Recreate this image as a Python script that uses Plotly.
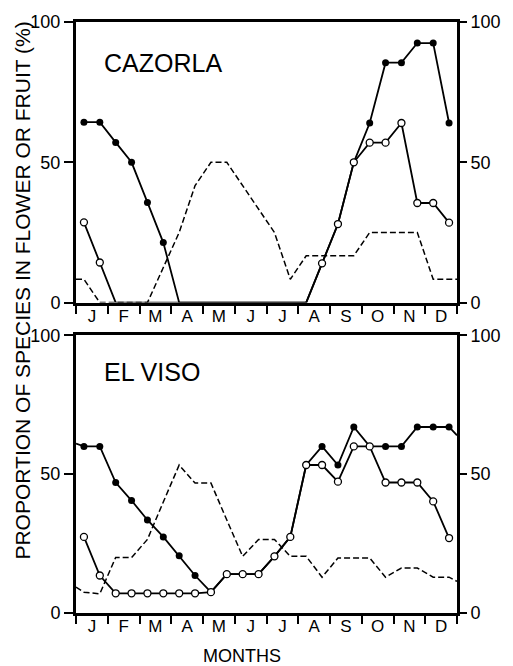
import plotly.graph_objects as go

# ---- data (x = half-month sample points, in months from 1 Jan) ----
sample_months = [0.25, 0.75, 1.25, 1.75, 2.25, 2.75, 3.25, 3.75, 4.25, 4.75, 5.25, 5.75,
                 6.25, 6.75, 7.25, 7.75, 8.25, 8.75, 9.25, 9.75, 10.25, 10.75, 11.25, 11.75]
month_labels = ["J", "F", "M", "A", "M", "J", "J", "A", "S", "O", "N", "D"]
month_centres = [0.5, 1.5, 2.5, 3.5, 4.5, 5.5, 6.5, 7.5, 8.5, 9.5, 10.5, 11.5]
year_ends = [0, 12]

cazorla_filled = [64.3, 64.3, 57.1, 50.0, 35.7, 21.4, 0, 0, 0, 0, 0, 0,
                  0, 0, 0, 14.0, 28.0, 50.0, 64.0, 85.5, 85.5, 92.5, 92.5, 64.0]
cazorla_open = [28.6, 14.3, 0, 0, 0, 0, 0, 0, 0, 0, 0, 0,
                0, 0, 0, 14.0, 28.0, 50.0, 57.0, 57.0, 64.0, 35.5, 35.5, 28.5]
cazorla_dashed = [8.3, 0, 0, 0, 0, 12.5, 25.0, 41.7, 50.0, 50.0, 41.7, 33.3,
                  25.0, 8.3, 16.7, 16.7, 16.7, 16.7, 25.0, 25.0, 25.0, 25.0, 8.3, 8.3]
cazorla_dashed_ends = [8.3, 8.3]

elviso_filled = [60.0, 60.0, 47.0, 40.5, 33.5, 27.4, 20.6, 13.5, 7.5, 14.0, 14.0, 14.0,
                 20.4, 27.4, 53.3, 60.0, 53.3, 67.0, 60.0, 60.0, 60.0, 67.0, 67.0, 67.0]
elviso_filled_ends = [61.0, 64.0]
elviso_open = [27.4, 13.5, 7.1, 7.1, 7.1, 7.1, 7.1, 7.1, 7.5, 14.0, 14.0, 14.0,
               20.4, 27.4, 53.3, 53.3, 47.3, 60.0, 60.0, 47.0, 47.0, 47.0, 40.2, 27.0]
elviso_dashed = [7.5, 6.9, 20.0, 20.0, 26.5, 40.0, 53.3, 46.8, 46.8, 33.5, 20.4, 26.5,
                 26.5, 20.4, 20.4, 12.9, 19.8, 19.8, 19.8, 12.9, 16.2, 16.2, 12.9, 12.9]
elviso_dashed_ends = [9.3, 11.4]

FONT = "Liberation Sans, Arial, Helvetica, sans-serif"


def with_ends(vals, ends):
    xs = [year_ends[0]] + sample_months + [year_ends[1]]
    ys = [ends[0]] + vals + [ends[1]]
    return xs, ys


def msizes(vals):
    return [7 if v > 0 else 0 for v in vals]


fig = go.Figure()

panels = [
    ("x", "y", "y3", cazorla_filled, None, cazorla_open, cazorla_dashed, cazorla_dashed_ends),
    ("x2", "y2", "y4", elviso_filled, elviso_filled_ends, elviso_open, elviso_dashed, elviso_dashed_ends),
]

for xa, ya, yr, filled, filled_ends, opened, dashed, dashed_ends in panels:
    dx, dy = with_ends(dashed, dashed_ends)
    fig.add_trace(go.Scatter(x=dx, y=dy, mode="lines", xaxis=xa, yaxis=yr,
                             line=dict(color="black", width=1.5, dash="6px,3px"),
                             showlegend=False, hoverinfo="skip"))
    if filled_ends is not None:
        fx, fy = with_ends(filled, filled_ends)
        fsz = [0] + msizes(filled) + [0]
    else:
        fx, fy = sample_months, filled
        fsz = msizes(filled)
    fig.add_trace(go.Scatter(x=fx, y=fy, mode="lines+markers", xaxis=xa, yaxis=ya,
                             line=dict(color="black", width=1.8),
                             marker=dict(color="black", size=fsz, symbol="circle", opacity=1,
                                         line=dict(width=0)),
                             showlegend=False, cliponaxis=False))
    fig.add_trace(go.Scatter(x=sample_months, y=opened, mode="lines+markers", xaxis=xa, yaxis=ya,
                             line=dict(color="black", width=1.8),
                             marker=dict(color="white", size=msizes(opened), symbol="circle",
                                         opacity=1, line=dict(color="black", width=1.3)),
                             showlegend=False, cliponaxis=False))

xcommon = dict(range=[0, 12], showline=True, linewidth=3, linecolor="black", mirror=True,
               showgrid=False, zeroline=False, tickmode="array", tickvals=month_centres,
               ticktext=month_labels, ticks="", ticklabelstandoff=-4,
               tickfont=dict(family=FONT, size=17, color="black"),
               minor=dict(ticks="outside", tick0=0, dtick=1, ticklen=8, tickwidth=1.5,
                          tickcolor="black", showgrid=False))
ycommon = dict(range=[0, 100], showgrid=False, zeroline=False, tickmode="array",
               tickvals=[0, 50, 100], ticks="outside", ticklen=9, tickwidth=1.5,
               tickcolor="black", tickfont=dict(family=FONT, size=18, color="black"))

top_dom = [0.5252, 1.0]
bot_dom = [0.0, 0.4698]

fig.update_layout(
    width=513, height=666,
    margin=dict(l=76, r=39, t=17, b=53),
    paper_bgcolor="white", plot_bgcolor="white",
    xaxis=dict(domain=[0, 1], anchor="y", **xcommon),
    xaxis2=dict(domain=[0, 1], anchor="y2", **xcommon),
    yaxis=dict(domain=top_dom, anchor="x", showline=True, linewidth=3, linecolor="black",
               mirror=True, **ycommon),
    yaxis2=dict(domain=bot_dom, anchor="x2", showline=True, linewidth=3, linecolor="black",
                mirror=True, **ycommon),
    yaxis3=dict(overlaying="y", anchor="x", side="right", showline=False, **ycommon),
    yaxis4=dict(overlaying="y2", anchor="x2", side="right", showline=False, **ycommon),
    annotations=[
        dict(text="CAZORLA", xref="x domain", yref="y domain", x=0.068, y=0.853,
             xanchor="left", yanchor="middle", showarrow=False,
             font=dict(family=FONT, size=25, color="black")),
        dict(text="EL VISO", xref="x2 domain", yref="y2 domain", x=0.068, y=0.868,
             xanchor="left", yanchor="middle", showarrow=False,
             font=dict(family=FONT, size=25, color="black")),
        dict(text="PROPORTION OF SPECIES IN FLOWER OR FRUIT (%)", xref="paper", yref="paper",
             x=-0.14, y=0.545, xanchor="center", yanchor="middle", textangle=-90,
             showarrow=False, font=dict(family=FONT, size=21, color="black")),
        dict(text="MONTHS", xref="paper", yref="paper", x=0.437, y=-0.072,
             xanchor="center", yanchor="middle", showarrow=False,
             font=dict(family=FONT, size=18, color="black")),
    ],
)

fig.write_html("out.html")
